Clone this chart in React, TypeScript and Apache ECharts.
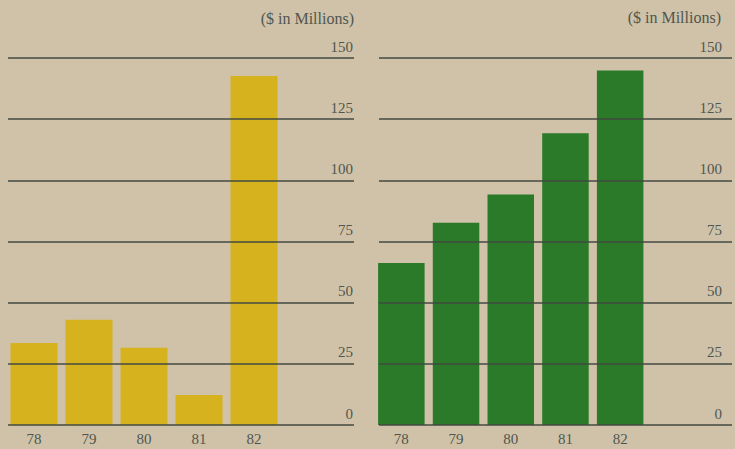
import React, { useEffect, useRef } from "react";
import * as echarts from "echarts";

const categories = ["78", "79", "80", "81", "82"];
const leftValues = [33.5, 43, 31.6, 12.3, 142.6];
const rightValues = [66.2, 82.7, 94.2, 119.2, 144.9];
const yTicks = [0, 25, 50, 75, 100, 125, 150];
const unitLabel = "($ in Millions)";

const BG = "#cfc2a9";
const GRID_LINE = "#424a40";
const TEXT = "#50564f";
const YELLOW = "#d5b21e";
const GREEN = "#2a7a2a";
const FONT = "Liberation Serif";

export default function App() {
  const ref = useRef<HTMLDivElement>(null);
  useEffect(() => {
    const chart = echarts.init(ref.current!, null, { renderer: "svg" });
    const yMin = yTicks[0];
    const yMax = yTicks[yTicks.length - 1];
    const step = yTicks[1] - yTicks[0];
    const top = 58;
    const bottom = 24;

    const gridAxisY = (gridIndex: number, margin: number) => ({
      type: "value",
      gridIndex,
      min: yMin,
      max: yMax,
      interval: step,
      position: "right",
      z: 5,
      axisLine: { show: false },
      axisTick: { show: false },
      axisLabel: {
        inside: true,
        margin,
        verticalAlign: "bottom",
        padding: [0, 0, 4, 0],
        color: TEXT,
        fontFamily: FONT,
        fontSize: 15,
      },
      splitLine: { show: true, lineStyle: { color: GRID_LINE, width: 1.5 } },
    });
    const hiddenY = (gridIndex: number) => ({
      type: "value",
      gridIndex,
      min: yMin,
      max: yMax,
      interval: step,
      show: false,
      splitLine: { show: false },
    });
    const hiddenX = (gridIndex: number) => ({
      type: "category",
      gridIndex,
      data: categories,
      show: false,
    });
    const barX = (gridIndex: number) => ({
      type: "category",
      gridIndex,
      data: categories,
      axisLine: { show: false },
      axisTick: { show: false },
      axisLabel: {
        color: TEXT,
        fontFamily: FONT,
        fontSize: 15,
        margin: 6,
      },
    });

    chart.setOption({
      animation: false,
      backgroundColor: BG,
      grid: [
        { left: 8, width: 346, top, bottom },
        { left: 6.5, width: 275, top, bottom },
        { left: 379, width: 353, top, bottom },
        { left: 374, width: 273.5, top, bottom },
      ],
      xAxis: [hiddenX(0), barX(1), hiddenX(2), barX(3)],
      yAxis: [gridAxisY(0, 1), hiddenY(1), gridAxisY(2, 10), hiddenY(3)],
      graphic: [
        {
          type: "text",
          right: 735 - 354,
          top: 10,
          style: { text: unitLabel, fill: TEXT, font: `16px "${FONT}"` },
        },
        {
          type: "text",
          right: 735 - 721,
          top: 9,
          style: { text: unitLabel, fill: TEXT, font: `16px "${FONT}"` },
        },
      ],
      series: [
        {
          type: "bar",
          xAxisIndex: 1,
          yAxisIndex: 1,
          data: leftValues,
          barWidth: 47,
          itemStyle: { color: YELLOW },
          z: 1,
        },
        {
          type: "bar",
          xAxisIndex: 3,
          yAxisIndex: 3,
          data: rightValues,
          barWidth: 46.5,
          itemStyle: { color: GREEN },
          z: 1,
        },
      ],
    });
    return () => chart.dispose();
  }, []);
  return (
    <div
      ref={ref}
      style={{ position: "fixed", left: 0, top: 0, width: 735, height: 449 }}
    />
  );
}
